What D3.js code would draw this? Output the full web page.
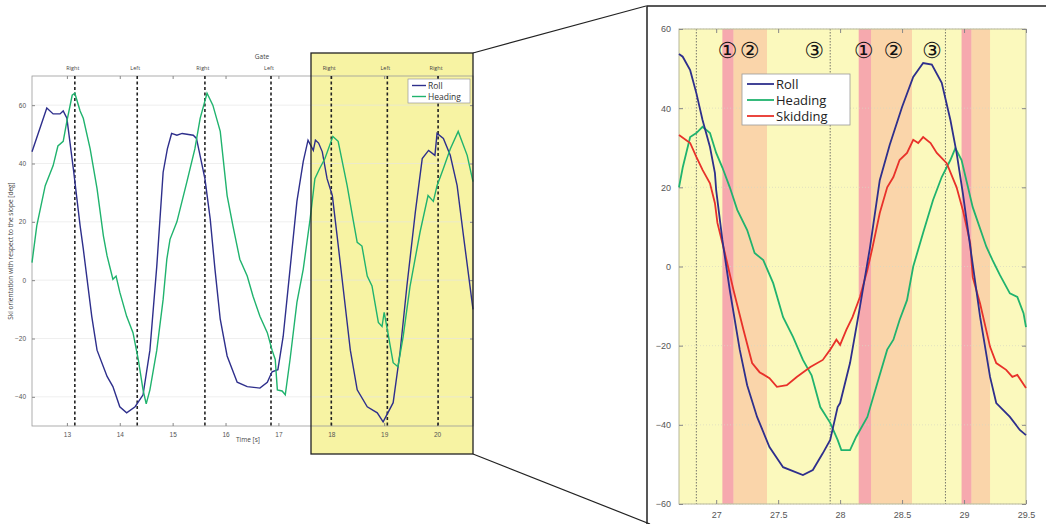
<!DOCTYPE html>
<html>
<head>
<meta charset="utf-8">
<script src="https://cdn.jsdelivr.net/npm/d3@7"></script>
<style>
  body { margin: 0; background: #fff; }
  svg { font-family: "Open Sans", "DejaVu Sans", sans-serif; }
  .tick text { fill: #555; }
  .domain, .tick line { stroke: #888; }
</style>
</head>
<body>
<svg id="chart" width="1046" height="524"></svg>
<script>
// left chart: [time, deg]
const leftRoll = [[12.34,44],[12.62,59],[12.74,57],[12.87,57],[12.93,58],[13.0,55.5],[13.13,37],[13.25,18.6],
  [13.31,10.7],[13.47,-12.4],[13.57,-24],[13.76,-33],[13.87,-36.5],[14.0,-43.4],[14.13,-45.5],[14.29,-43.4],
  [14.44,-39.3],[14.57,-24],[14.7,4.8],[14.82,37],[14.9,45],[14.98,50.3],[15.08,49.7],[15.18,50.3],[15.39,49.7],
  [15.45,48.6],[15.61,34.8],[15.71,21],[15.8,3.8],[15.9,-13.4],[16.03,-26],[16.22,-35],[16.41,-36.5],[16.65,-37],
  [16.79,-35],[16.88,-31.4],[16.99,-30.7],[17.09,-19.3],[17.22,3.8],[17.35,27],[17.47,40.7],[17.56,48],
  [17.66,44.5],[17.7,48],[17.76,47],[17.83,44],[17.92,34.8],[18.02,29],[18.11,15.2],[18.22,-2],[18.36,-24],
  [18.49,-37.6],[18.68,-43.4],[18.87,-45.5],[18.98,-48.6],[19.07,-45.5],[19.17,-42],[19.3,-24.8],[19.43,-2],
  [19.59,23.4],[19.72,41.7],[19.84,44.5],[19.96,42.8],[20.0,50.3],[20.12,48.6],[20.25,42.8],[20.38,32.4],
  [20.5,15.2],[20.68,-10]];
const leftHeading = [[12.34,6],[12.43,18.6],[12.59,32.4],[12.74,39.3],[12.83,46],[12.93,47.6],[13.0,54.5],
  [13.1,63.4],[13.15,64.1],[13.25,58],[13.31,55.5],[13.44,45],[13.57,31.4],[13.69,15.2],[13.76,8.3],[13.87,0.3],
  [13.93,1.4],[14.0,-4.1],[14.13,-12.4],[14.25,-18],[14.35,-27.2],[14.44,-37.6],[14.5,-42.4],[14.57,-37.6],
  [14.7,-24],[14.82,-6.6],[14.89,7.2],[14.95,14],[15.08,20],[15.27,33.8],[15.42,45],[15.52,55.5],[15.65,64.1],
  [15.76,60],[15.9,51],[16.03,29],[16.14,18.6],[16.27,7.2],[16.41,1.4],[16.52,-5.5],[16.65,-12.4],[16.79,-18],
  [16.88,-24],[16.94,-27.2],[16.98,-37.6],[17.07,-38],[17.13,-39.3],[17.22,-27.2],[17.35,-7.6],[17.47,3.8],
  [17.6,21],[17.69,34.8],[17.78,38.3],[17.88,41.7],[18.03,49.3],[18.13,47.6],[18.3,32.4],[18.41,21],[18.49,13],
  [18.58,11.7],[18.68,1.4],[18.77,-2],[18.89,-14.5],[18.96,-15.9],[19.0,-11],[19.07,-18],[19.17,-28.3],
  [19.26,-29.7],[19.36,-19.3],[19.49,-2],[19.68,16.6],[19.83,29],[19.93,27],[20.0,32.4],[20.12,38.3],
  [20.25,45],[20.4,51],[20.57,42.8],[20.68,33.8]];
const gateTimes = [13.15, 14.33, 15.61, 16.86, 18.0, 19.06, 20.02];
const gateLabels = ["Right", "Left", "Right", "Left", "Right", "Left", "Right"];
const leftXTicks = [13, 14, 15, 16, 17, 18, 19, 20];
const leftYTicks = [-40, -20, 0, 20, 40, 60];

// right chart (zoom)
const rightRoll = [[26.7,53.7],[26.73,53],[26.79,49.6],[26.84,43.8],[26.89,37],[26.95,30.2],[26.99,23.6],
  [27.0,19.3],[27.05,6.7],[27.11,-6],[27.19,-21],[27.25,-30],[27.33,-38],[27.43,-45.6],[27.54,-50.7],
  [27.7,-52.7],[27.78,-51.4],[27.86,-47.2],[27.92,-43.8],[27.98,-35.5],[28.0,-34.5],[28.08,-24.4],
  [28.16,-10.2],[28.24,4.6],[28.32,21.8],[28.4,30.7],[28.5,40.3],[28.59,47.9],[28.67,51.4],[28.74,51],
  [28.82,46.4],[28.89,37],[28.94,28.7],[28.99,18.6],[29.05,5],[29.13,-12.8],[29.21,-27.9],[29.26,-34.5],
  [29.37,-38],[29.45,-41.3],[29.5,-42.6]];
const rightHeading = [[26.7,20],[26.73,25],[26.79,32.7],[26.84,33.7],[26.89,35.3],[26.95,33.7],[27.0,28.7],
  [27.05,25],[27.11,20],[27.17,14.3],[27.25,9.2],[27.31,3.4],[27.38,1.6],[27.46,-4.2],[27.54,-12.8],
  [27.62,-17.8],[27.7,-23.6],[27.77,-27.5],[27.84,-35.5],[27.92,-39.5],[27.98,-43.8],[28.01,-46.4],
  [28.08,-46.4],[28.13,-43],[28.22,-38],[28.3,-29.5],[28.38,-21],[28.43,-18.5],[28.48,-13.5],[28.54,-8.5],
  [28.59,0],[28.67,8.5],[28.75,16.8],[28.82,22.6],[28.89,26.9],[28.93,29.9],[28.98,26.9],[29.07,15],
  [29.18,5],[29.23,1.6],[29.29,-2.2],[29.37,-6.8],[29.43,-7.7],[29.48,-11.8],[29.5,-15.3]];
const rightSkidding = [[26.7,33.2],[26.79,31.2],[26.84,27.7],[26.89,24.4],[26.95,21],[26.99,16],[27.01,11],
  [27.07,3.4],[27.14,-6],[27.22,-16],[27.29,-24.4],[27.35,-26.7],[27.43,-28.2],[27.49,-30.4],[27.57,-30],
  [27.65,-27.9],[27.76,-25.4],[27.86,-23.6],[27.92,-21],[27.97,-18.5],[28.0,-19.8],[28.05,-16],[28.1,-12.8],
  [28.16,-7.7],[28.22,-0.9],[28.26,4.6],[28.32,13.5],[28.38,20],[28.43,22.6],[28.48,26.9],[28.54,28.7],
  [28.59,32],[28.63,31.2],[28.67,32.7],[28.73,31.2],[28.78,28.7],[28.86,26.1],[28.94,20],[28.99,14.3],
  [29.05,5.9],[29.07,-2.7],[29.13,-9.4],[29.21,-20.3],[29.26,-24.4],[29.34,-26.1],[29.39,-27.9],[29.43,-27.4],
  [29.5,-30.7]];
const pinkBands = [[27.05,27.14],[28.15,28.25],[28.98,29.06]];
const peachBands = [[27.14,27.41],[28.25,28.58],[29.06,29.21]];
const phaseLines = [26.84, 27.92, 28.85];
const phaseMarks = [[27.09,"①"],[27.27,"②"],[27.79,"③"],[28.19,"①"],[28.43,"②"],[28.74,"③"]];
const rightXTicks = [27, 27.5, 28, 28.5, 29, 29.5];
const rightYTicks = [-60, -40, -20, 0, 20, 40, 60];

const rollColor = "#2e2f8c";
const headingColor = "#20b36e";
const skidColor = "#e8312a";

const svg = d3.select("#chart");

drawLeftChart();
drawRightChart();
drawConnectors();

function drawLeftChart() {
  const left = 32, top = 76, right = 473, bottom = 426;
  const x = d3.scaleLinear().domain([12.34, 20.68]).range([left, right]);
  const y = d3.scaleLinear().domain([-50, 70]).range([bottom, top]);

  // yellow highlight box (behind the lines)
  svg.append("rect")
    .attr("x", 311).attr("y", 53)
    .attr("width", right - 311).attr("height", 454 - 53)
    .attr("fill", "#f7f3a3");

  // grid
  svg.append("g").selectAll("line").data(leftYTicks).join("line")
    .attr("x1", left).attr("x2", right)
    .attr("y1", d => y(d)).attr("y2", d => y(d))
    .attr("stroke", "#e4e4e4").attr("stroke-width", 0.6);

  // frame
  svg.append("rect")
    .attr("x", left).attr("y", top)
    .attr("width", right - left).attr("height", bottom - top)
    .attr("fill", "none").attr("stroke", "#999").attr("stroke-width", 0.8);

  svg.append("g")
    .attr("transform", "translate(0," + bottom + ")")
    .call(d3.axisBottom(x).tickValues(leftXTicks).tickSize(-3).tickPadding(6).tickFormat(d3.format("d")))
    .call(g => g.select(".domain").remove())
    .selectAll("text").attr("font-size", 6.5);

  svg.append("g")
    .attr("transform", "translate(0," + top + ")")
    .call(d3.axisTop(x).tickValues(leftXTicks).tickSize(-3).tickFormat(""))
    .call(g => g.select(".domain").remove());

  svg.append("g")
    .attr("transform", "translate(" + left + ",0)")
    .call(d3.axisLeft(y).tickValues(leftYTicks).tickSize(-3).tickPadding(6))
    .call(g => g.select(".domain").remove())
    .selectAll("text").attr("font-size", 6.5);

  svg.append("g")
    .attr("transform", "translate(" + right + ",0)")
    .call(d3.axisRight(y).tickValues(leftYTicks).tickSize(-3).tickFormat(""))
    .call(g => g.select(".domain").remove());

  // gates
  svg.append("g").selectAll("line").data(gateTimes).join("line")
    .attr("x1", d => x(d)).attr("x2", d => x(d))
    .attr("y1", top).attr("y2", bottom)
    .attr("stroke", "#222").attr("stroke-width", 1.6)
    .attr("stroke-dasharray", "3,2.5");

  svg.append("g").selectAll("text").data(gateTimes).join("text")
    .attr("x", d => x(d) - 2).attr("y", top - 6)
    .attr("text-anchor", "middle").attr("font-size", 5.5).attr("fill", "#444")
    .text((d, i) => gateLabels[i]);

  svg.append("text")
    .attr("x", 262).attr("y", 59)
    .attr("text-anchor", "middle").attr("font-size", 6.5).attr("fill", "#444")
    .text("Gate");

  svg.append("text")
    .attr("x", 248).attr("y", 442)
    .attr("text-anchor", "middle").attr("font-size", 6.5).attr("fill", "#444")
    .text("Time [s]");

  svg.append("text")
    .attr("transform", "translate(13," + (y(10)) + ") rotate(-90)")
    .attr("text-anchor", "middle").attr("font-size", 6.5).attr("fill", "#444")
    .text("Ski orientation with respect to the slope [deg]");

  const line = d3.line().x(d => x(d[0])).y(d => y(d[1]));

  svg.append("path").datum(leftRoll)
    .attr("fill", "none").attr("stroke", rollColor).attr("stroke-width", 1.4)
    .attr("d", line);
  svg.append("path").datum(leftHeading)
    .attr("fill", "none").attr("stroke", headingColor).attr("stroke-width", 1.4)
    .attr("d", line);

  // box border on top
  svg.append("rect")
    .attr("x", 311).attr("y", 53)
    .attr("width", right - 311).attr("height", 454 - 53)
    .attr("fill", "none").attr("stroke", "#222").attr("stroke-width", 1.3);

  // legend
  const lg = svg.append("g").attr("transform", "translate(408,79)");
  lg.append("rect").attr("width", 62).attr("height", 24)
    .attr("fill", "#fff").attr("stroke", "#999").attr("stroke-width", 0.7);
  [["Roll", rollColor], ["Heading", headingColor]].forEach((e, i) => {
    lg.append("line").attr("x1", 4).attr("x2", 18)
      .attr("y1", 6.5 + i * 11).attr("y2", 6.5 + i * 11)
      .attr("stroke", e[1]).attr("stroke-width", 1.4);
    lg.append("text").attr("x", 20).attr("y", 9.5 + i * 11)
      .attr("font-size", 8.5).attr("fill", "#333").text(e[0]);
  });
}

function drawRightChart() {
  const left = 679, top = 29, right = 1026, bottom = 504;
  const x = d3.scaleLinear().domain([26.7, 29.5]).range([left, right]);
  const y = d3.scaleLinear().domain([-60, 60]).range([bottom, top]);

  // panel frame
  svg.append("path")
    .attr("d", "M647,524 L647,6 L1046,6")
    .attr("fill", "none").attr("stroke", "#222").attr("stroke-width", 1.5);

  svg.append("rect")
    .attr("x", left).attr("y", top)
    .attr("width", right - left).attr("height", bottom - top)
    .attr("fill", "#fbf9bd");

  svg.append("g").selectAll("rect").data(peachBands).join("rect")
    .attr("x", d => x(d[0])).attr("y", top)
    .attr("width", d => x(d[1]) - x(d[0])).attr("height", bottom - top)
    .attr("fill", "#fad5aa");
  svg.append("g").selectAll("rect").data(pinkBands).join("rect")
    .attr("x", d => x(d[0])).attr("y", top)
    .attr("width", d => x(d[1]) - x(d[0])).attr("height", bottom - top)
    .attr("fill", "#f6a9ae");

  // grid
  svg.append("g").selectAll("line").data(rightYTicks).join("line")
    .attr("x1", left).attr("x2", right)
    .attr("y1", d => y(d)).attr("y2", d => y(d))
    .attr("stroke", "#d8d8c0").attr("stroke-width", 0.7).attr("stroke-dasharray", "1,2");

  svg.append("g").selectAll("line").data(phaseLines).join("line")
    .attr("x1", d => x(d)).attr("x2", d => x(d))
    .attr("y1", top).attr("y2", bottom)
    .attr("stroke", "#555").attr("stroke-width", 0.8).attr("stroke-dasharray", "1.5,1.5");

  svg.append("rect")
    .attr("x", left).attr("y", top)
    .attr("width", right - left).attr("height", bottom - top)
    .attr("fill", "none").attr("stroke", "#b8b89a").attr("stroke-width", 1);

  svg.append("g")
    .attr("transform", "translate(0," + bottom + ")")
    .call(d3.axisBottom(x).tickValues(rightXTicks).tickSize(-4).tickPadding(8).tickFormat(d => d))
    .call(g => g.select(".domain").remove())
    .selectAll("text").attr("font-size", 9);
  svg.append("g")
    .attr("transform", "translate(0," + top + ")")
    .call(d3.axisTop(x).tickValues(rightXTicks).tickSize(-4).tickFormat(""))
    .call(g => g.select(".domain").remove());
  svg.append("g")
    .attr("transform", "translate(" + left + ",0)")
    .call(d3.axisLeft(y).tickValues(rightYTicks).tickSize(-4).tickPadding(8))
    .call(g => g.select(".domain").remove())
    .selectAll("text").attr("font-size", 9);
  svg.append("g")
    .attr("transform", "translate(" + right + ",0)")
    .call(d3.axisRight(y).tickValues(rightYTicks).tickSize(-4).tickFormat(""))
    .call(g => g.select(".domain").remove());

  svg.append("g").selectAll("text").data(phaseMarks).join("text")
    .attr("x", d => x(d[0])).attr("y", 58)
    .attr("text-anchor", "middle").attr("font-size", 22)
    .attr("font-family", "DejaVu Sans").attr("fill", "#111")
    .text(d => d[1]);

  const line = d3.line().x(d => x(d[0])).y(d => y(d[1]));
  [[rightHeading, headingColor], [rightSkidding, skidColor], [rightRoll, rollColor]].forEach(s => {
    svg.append("path").datum(s[0])
      .attr("fill", "none").attr("stroke", s[1]).attr("stroke-width", 1.8)
      .attr("d", line);
  });

  // legend
  const lg = svg.append("g").attr("transform", "translate(742,74)");
  lg.append("rect").attr("width", 108).attr("height", 51)
    .attr("fill", "#fff").attr("stroke", "#999").attr("stroke-width", 0.8);
  [["Roll", rollColor], ["Heading", headingColor], ["Skidding", skidColor]].forEach((e, i) => {
    lg.append("line").attr("x1", 5).attr("x2", 32)
      .attr("y1", 10 + i * 16).attr("y2", 10 + i * 16)
      .attr("stroke", e[1]).attr("stroke-width", 1.8);
    lg.append("text").attr("x", 34).attr("y", 14.5 + i * 16)
      .attr("font-size", 13).attr("fill", "#222").text(e[0]);
  });
}

function drawConnectors() {
  svg.append("line").attr("x1", 473).attr("y1", 53).attr("x2", 646).attr("y2", 6)
    .attr("stroke", "#222").attr("stroke-width", 1.2);
  svg.append("line").attr("x1", 473).attr("y1", 454).attr("x2", 650).attr("y2", 524)
    .attr("stroke", "#222").attr("stroke-width", 1.2);
}
</script>
</body>
</html>
